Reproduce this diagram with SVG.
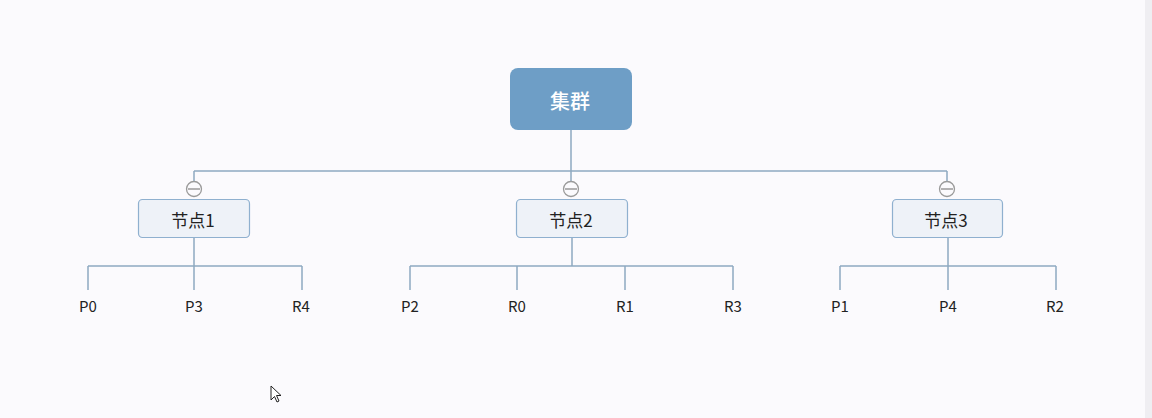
<svg xmlns="http://www.w3.org/2000/svg" width="1152" height="418" viewBox="0 0 1152 418">
<style>
.bg{fill:#fbfafd}
.ln{stroke:#8ea9c1;stroke-width:1.5;fill:none}
.child rect{fill:#eef2f8;stroke:#8fb0cf;stroke-width:1.2}
.t{font-family:"Noto Sans CJK SC","Liberation Sans",sans-serif;fill:#222;text-anchor:middle;dominant-baseline:central}
.leaf{font-size:15px}
.col circle{fill:#fbfafd;stroke:#9a9a9a;stroke-width:1.3}
.col line{stroke:#8a8a8a;stroke-width:1.3}
</style>
<rect class="bg" x="0" y="0" width="1152" height="418"/>
<rect x="1145" y="0" width="7" height="418" fill="#efeef2"/>
<g id="connectors">
<path class="ln" d="M571 130V171M194 171H947M194 171V181M571 171V181M947 171V181"/>
<path class="ln" d="M194 238V266M88 266H302M88 266V290M194 266V290M302 266V290"/>
<path class="ln" d="M572 238V266M410 266H733M410 266V290M517 266V290M625 266V290M733 266V290"/>
<path class="ln" d="M948 238V266M840 266H1056M840 266V290M948 266V290M1056 266V290"/>
</g>
<g id="collapse" class="col">
<circle cx="194" cy="189" r="7.5"/><line x1="188" y1="189" x2="200" y2="189"/>
<circle cx="571" cy="189" r="7.5"/><line x1="565" y1="189" x2="577" y2="189"/>
<circle cx="947" cy="189" r="7.5"/><line x1="941" y1="189" x2="953" y2="189"/>
</g>
<g id="root">
<rect x="510" y="68" width="122" height="62" rx="8" fill="#6e9ec6"/>
<text class="t" x="570" y="100" font-size="20" font-weight="500" style="fill:#fff">集群</text>
</g>
<g id="node1" class="child">
<rect x="138.5" y="199.5" width="111" height="38" rx="4"/>
<text class="t" x="193" y="219" font-size="17">节点1</text>
</g>
<g id="node2" class="child">
<rect x="516.5" y="199.5" width="111" height="38" rx="4"/>
<text class="t" x="571" y="219" font-size="17">节点2</text>
</g>
<g id="node3" class="child">
<rect x="892.5" y="199.5" width="110" height="38" rx="4"/>
<text class="t" x="946" y="219" font-size="17">节点3</text>
</g>
<g id="leaf-P0"><text class="t leaf" x="88" y="305">P0</text></g>
<g id="leaf-P3"><text class="t leaf" x="194" y="305">P3</text></g>
<g id="leaf-R4"><text class="t leaf" x="301" y="305">R4</text></g>
<g id="leaf-P2"><text class="t leaf" x="410" y="305">P2</text></g>
<g id="leaf-R0"><text class="t leaf" x="517" y="305">R0</text></g>
<g id="leaf-R1"><text class="t leaf" x="625" y="305">R1</text></g>
<g id="leaf-R3"><text class="t leaf" x="733" y="305">R3</text></g>
<g id="leaf-P1"><text class="t leaf" x="840" y="305">P1</text></g>
<g id="leaf-P4"><text class="t leaf" x="948" y="305">P4</text></g>
<g id="leaf-R2"><text class="t leaf" x="1055" y="305">R2</text></g>
<path d="M271 386V400L274.5 396.5L277 402L279 401L276.5 395.5H281Z" fill="#fff" stroke="#222" stroke-width="1"/>
</svg>
